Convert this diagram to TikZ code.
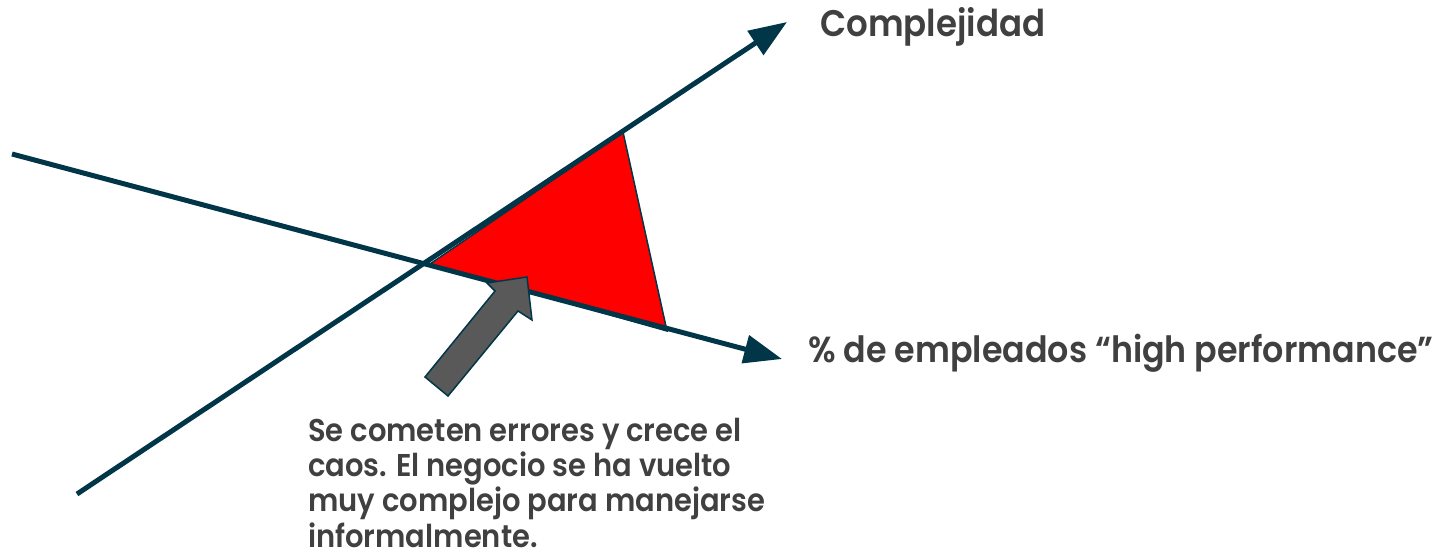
\documentclass[tikz,border=0pt]{standalone}
\usepackage{fontspec}
\setmainfont{Poppins}[UprightFont=* SemiBold, FakeStretch=0.92]
\usetikzlibrary{arrows.meta}
\definecolor{axisc}{RGB}{0,54,72}
\definecolor{txtc}{RGB}{64,64,64}
\definecolor{arrc}{RGB}{89,89,89}
\tikzset{
  axis/.style={draw=axisc, line width=5pt, -{Triangle[length=38pt,width=28pt]}},
  zone/.style={fill=red, draw=axisc, line width=1.5pt, line join=miter},
  callout/.style={fill=arrc, draw=axisc, line width=1.5pt, line join=miter},
  lbl/.style={text=txtc, font=\fontsize{37}{44}\selectfont, inner sep=0pt, anchor=base west},
  note/.style={text=txtc, font=\fontsize{31.5}{35.2}\selectfont, inner sep=0pt, anchor=north west, align=left},
}
\begin{document}
\begin{tikzpicture}[x=1pt,y=-1pt]
\useasboundingbox (0,0) rectangle (1452,554);
\coordinate (cs) at (77,494);
\coordinate (ce) at (787,22);
\coordinate (ps) at (12,154);
\coordinate (pe) at (782,359);
\coordinate (t1) at (430,264);
\coordinate (t2) at (623,132);
\coordinate (t3) at (667,331);
\path[zone] (t1) -- (t2) -- (t3) -- cycle;
\draw[axis] (ps) -- (pe);
\draw[axis] (cs) -- (ce);
\coordinate (a1) at (425,377);
\coordinate (a2) at (495,291);
\coordinate (a3) at (487,283);
\coordinate (a4) at (527,277);
\coordinate (a5) at (532,320);
\coordinate (a6) at (518,311);
\coordinate (a7) at (448,396);
\path[callout] (a1) -- (a2) -- (a3) -- (a4) -- (a5) -- (a6) -- (a7) -- cycle;
\node[lbl] (cx) at (820,36) {Complejidad};
\node[lbl, font=\fontsize{36.2}{44}\selectfont] (hp) at (808,362) {\% de empleados “high performance”};
\node[note] (nt) at (308,418) {Se cometen errores y crece el\\caos. El negocio se ha vuelto\\muy complejo para manejarse\\informalmente.};
\end{tikzpicture}
\end{document}
